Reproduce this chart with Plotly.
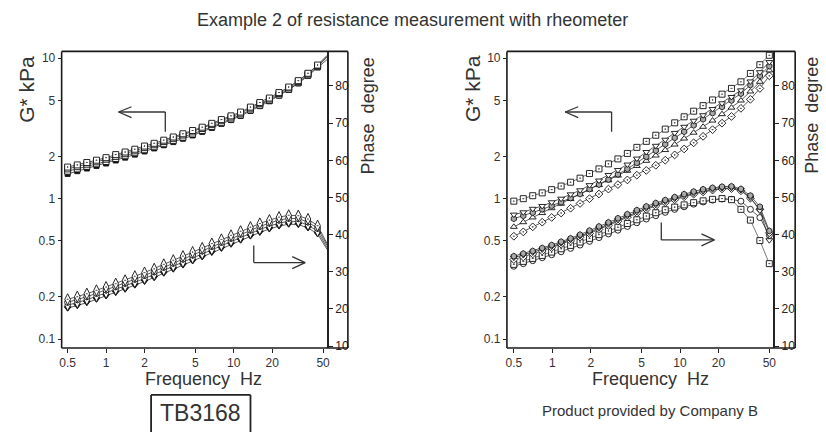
import plotly.graph_objects as go

# ---------------- data ----------------
freq_left = [0.5, 0.595, 0.707, 0.841, 1.0, 1.19, 1.41, 1.68, 2.0, 2.38, 2.83, 3.36, 4.0, 4.76,
             5.66, 6.73, 8.0, 9.51, 11.3, 13.5, 16.0, 19.0, 22.6, 26.9, 32.0, 38.1, 45.3, 53.8]
freq_right = [0.5, 0.593, 0.703, 0.834, 0.989, 1.173, 1.391, 1.65, 1.956, 2.32, 2.752, 3.264, 3.871, 4.591,
              5.445, 6.458, 7.659, 9.082, 10.77, 12.78, 15.15, 17.97, 21.31, 25.27, 29.97, 35.54, 42.16, 50.0]

# left panel (TB3168): G* kPa
gL_A = [1.68, 1.74, 1.81, 1.88, 1.96, 2.06, 2.15, 2.25, 2.37, 2.48, 2.61, 2.75, 2.90, 3.06, 3.23, 3.44, 3.66, 3.89, 4.14, 4.49, 4.84, 5.21, 5.70, 6.24, 6.93, 7.82, 8.95, 10.5]
gL_B = [1.63, 1.69, 1.76, 1.83, 1.91, 2.00, 2.09, 2.19, 2.31, 2.42, 2.55, 2.69, 2.84, 2.99, 3.16, 3.37, 3.59, 3.81, 4.06, 4.41, 4.75, 5.12, 5.61, 6.15, 6.84, 7.74, 8.86, 10.3]
gL_C = [1.57, 1.63, 1.70, 1.77, 1.84, 1.93, 2.02, 2.12, 2.23, 2.34, 2.46, 2.60, 2.74, 2.89, 3.06, 3.26, 3.48, 3.70, 3.95, 4.29, 4.63, 5.00, 5.48, 6.01, 6.70, 7.60, 8.72, 10.2]
gL_D = [1.50, 1.57, 1.64, 1.71, 1.78, 1.87, 1.96, 2.06, 2.17, 2.28, 2.40, 2.53, 2.67, 2.82, 2.99, 3.19, 3.41, 3.63, 3.88, 4.22, 4.56, 4.94, 5.42, 5.95, 6.62, 7.50, 8.60, 9.8]
# left panel: phase degree
pL_A = [22.6, 23.3, 24.1, 25.0, 25.9, 26.8, 27.7, 28.8, 29.8, 30.8, 32.0, 33.1, 34.2, 35.3, 36.4, 37.6, 38.7, 39.8, 40.9, 42.0, 43.0, 43.9, 44.7, 45.2, 45.1, 44.2, 42.4, 37.6]
pL_B = [21.8, 22.5, 23.3, 24.2, 25.1, 26.0, 26.9, 28.0, 29.0, 30.0, 31.2, 32.3, 33.4, 34.5, 35.6, 36.8, 37.9, 39.0, 40.1, 41.2, 42.2, 43.1, 43.9, 44.4, 44.3, 43.4, 41.7, 37.1]
pL_C = [21.0, 21.7, 22.5, 23.4, 24.3, 25.2, 26.1, 27.2, 28.2, 29.2, 30.4, 31.5, 32.6, 33.7, 34.8, 36.0, 37.1, 38.2, 39.3, 40.4, 41.4, 42.3, 43.1, 43.6, 43.5, 42.6, 40.9, 36.5]
pL_D = [20.2, 20.9, 21.7, 22.6, 23.5, 24.4, 25.3, 26.4, 27.4, 28.4, 29.6, 30.7, 31.8, 32.9, 34.0, 35.2, 36.3, 37.4, 38.5, 39.6, 40.6, 41.5, 42.3, 42.8, 42.7, 41.8, 40.2, 36.0]

# right panel (Company B): G* kPa
gR_1 = [0.96, 1.00, 1.05, 1.10, 1.16, 1.23, 1.31, 1.40, 1.51, 1.63, 1.77, 1.92, 2.10, 2.32, 2.56, 2.83, 3.13, 3.47, 3.83, 4.2, 4.6, 5.05, 5.55, 6.1, 6.8, 7.8, 9.0, 10.5]
gR_2 = [0.77, 0.80, 0.847, 0.887, 0.943, 1.0, 1.074, 1.148, 1.248, 1.347, 1.475, 1.6, 1.75, 1.93, 2.15, 2.38, 2.63, 2.94, 3.25, 3.59, 3.93, 4.35, 4.78, 5.3, 5.91, 6.84, 7.96, 9.4]
gR_3 = [0.72, 0.755, 0.795, 0.84, 0.89, 0.945, 1.01, 1.08, 1.17, 1.26, 1.37, 1.49, 1.63, 1.8, 1.99, 2.2, 2.44, 2.71, 3.0, 3.33, 3.68, 4.07, 4.5, 5.0, 5.6, 6.45, 7.5, 8.8]
gR_4 = [0.63, 0.68, 0.735, 0.79, 0.855, 0.92, 0.995, 1.075, 1.16, 1.25, 1.35, 1.46, 1.58, 1.71, 1.86, 2.03, 2.22, 2.43, 2.68, 2.95, 3.25, 3.6, 4.0, 4.45, 5.0, 5.8, 6.8, 8.2]
gR_5 = [0.54, 0.58, 0.63, 0.68, 0.735, 0.79, 0.855, 0.925, 1.0, 1.08, 1.17, 1.26, 1.36, 1.47, 1.59, 1.73, 1.88, 2.05, 2.26, 2.5, 2.78, 3.1, 3.45, 3.85, 4.4, 5.1, 6.1, 7.5]
# right panel: phase degree
pR_1 = [32.0, 32.8, 33.6, 34.4, 35.3, 36.2, 37.1, 38.0, 39.0, 40.0, 41.0, 42.0, 43.0, 44.0, 45.0, 45.9, 46.7, 47.4, 48.0, 48.6, 49.1, 49.5, 49.7, 49.4, 46.8, 43.9, 38.4, 32.2]
pR_2 = [33.8, 34.5, 35.2, 36.0, 36.8, 37.7, 38.6, 39.6, 40.6, 41.7, 42.8, 43.9, 45.0, 46.1, 47.1, 48.0, 48.9, 49.7, 50.4, 51.1, 51.7, 52.2, 52.5, 52.6, 52.0, 50.0, 46.5, 38.5]
pR_3 = [34.2, 34.9, 35.6, 36.4, 37.2, 38.1, 39.0, 40.0, 41.1, 42.2, 43.3, 44.4, 45.5, 46.6, 47.6, 48.5, 49.3, 50.1, 50.9, 51.6, 52.2, 52.6, 52.9, 53.0, 52.3, 50.5, 47.5, 41.0]
pR_4 = [31.5, 32.2, 33.0, 33.8, 34.6, 35.4, 36.3, 37.2, 38.2, 39.2, 40.2, 41.2, 42.2, 43.2, 44.2, 45.1, 46.0, 46.8, 47.5, 48.2, 48.8, 49.3, 49.6, 49.5, 49.0, 46.8, 44.6, 39.8]
pR_5 = [33.3, 34.0, 34.8, 35.6, 36.5, 37.4, 38.3, 39.3, 40.3, 41.4, 42.5, 43.6, 44.7, 45.8, 46.8, 47.7, 48.6, 49.4, 50.2, 50.9, 51.5, 52.0, 52.3, 52.4, 51.8, 49.8, 46.8, 40.5]

x_tickvals = [0.5, 1, 2, 5, 10, 20, 50]
x_ticktext = ["0.5", "1", "2", "5", "10", "20", "50"]
g_tickvals = [0.1, 0.2, 0.5, 1, 2, 5, 10]
g_ticktext = ["0.1", "0.2", "0.5", "1", "2", "5", "10"]
p_tickvals = [10, 20, 30, 40, 50, 60, 70, 80]

# ---------------- layout helpers ----------------
W, H = 826, 432
FONT = "Liberation Sans, Arial, sans-serif"
TXT = "#333333"
AX = "#222222"


def fx(x):
    return x / W


def fy(y):
    return 1 - y / H


fig = go.Figure()


def add_series(x, y, xa, ya, symbol, fill="white", size=6, lc="#333"):
    fig.add_trace(go.Scatter(
        x=x, y=y, xaxis=xa, yaxis=ya, mode="lines+markers",
        line=dict(color=lc, width=0.8),
        marker=dict(symbol=symbol, size=size, color=fill, line=dict(color="#111", width=0.9)),
        cliponaxis=False, showlegend=False, hoverinfo="skip"))


# left panel
add_series(freq_left, gL_D, "x", "y", "square", fill="#111", size=5)
add_series(freq_left, gL_C, "x", "y", "square-dot", size=6)
add_series(freq_left, gL_B, "x", "y", "square-dot", size=6, fill="#eee")
add_series(freq_left, gL_A, "x", "y", "square-dot", size=6)
add_series(freq_left, pL_D, "x", "y2", "triangle-down", fill="#111", size=6)
add_series(freq_left, pL_C, "x", "y2", "diamond-tall-dot", size=8)
add_series(freq_left, pL_B, "x", "y2", "circle-dot", size=6)
add_series(freq_left, pL_A, "x", "y2", "diamond-tall-dot", size=8)

# right panel
add_series(freq_right, gR_5, "x2", "y3", "diamond-dot", size=6)
add_series(freq_right, gR_4, "x2", "y3", "triangle-up", size=6)
add_series(freq_right, gR_3, "x2", "y3", "hexagon", fill="#aaa", size=6)
add_series(freq_right, gR_2, "x2", "y3", "triangle-down", size=6)
add_series(freq_right, gR_1, "x2", "y3", "square-dot", size=6, lc="#555")
add_series(freq_right, pR_4, "x2", "y4", "circle", size=6)
add_series(freq_right, pR_1, "x2", "y4", "square-dot", size=6, lc="#555")
add_series(freq_right, pR_5, "x2", "y4", "diamond-dot", size=6)
add_series(freq_right, pR_2, "x2", "y4", "triangle-down", size=6)
add_series(freq_right, pR_3, "x2", "y4", "hexagon", fill="#aaa", size=6)

ydom = [fy(352), fy(52)]
tickfont = dict(family=FONT, size=12, color=TXT)
ptickfont = dict(family=FONT, size=12, color="#222")

common_x = dict(type="log", tickvals=x_tickvals, ticktext=x_ticktext, ticks="outside",
                ticklen=4, tickcolor=AX, tickwidth=1, showgrid=False, zeroline=False,
                showline=False, tickfont=tickfont)
common_g = dict(type="log", range=[-1.063, 1.049], domain=ydom, tickvals=g_tickvals,
                ticktext=g_ticktext, ticks="outside", ticklen=3, tickcolor=AX,
                showgrid=False, zeroline=False, showline=False, tickfont=tickfont)
common_p = dict(range=[9.52, 89.3], side="right", tickvals=p_tickvals, ticks="outside",
                ticklen=4, tickcolor=AX, tickwidth=1.2, showgrid=False, zeroline=False,
                showline=True, linecolor=AX, linewidth=1.6, tickfont=ptickfont,
                ticklabelstandoff=0)

fig.update_layout(
    width=W, height=H, margin=dict(l=0, r=0, t=0, b=0),
    paper_bgcolor="white", plot_bgcolor="rgba(0,0,0,0)",
    xaxis=dict(domain=[fx(60), fx(327)], range=[-0.348, 1.730], anchor="y", **common_x),
    yaxis=dict(anchor="x", **common_g),
    yaxis2=dict(overlaying="y", anchor="x", **common_p),
    xaxis2=dict(domain=[fx(508), fx(776)], range=[-0.355, 1.730], anchor="y3", **common_x),
    yaxis3=dict(anchor="x2", **common_g),
    yaxis4=dict(overlaying="y3", anchor="x2", **common_p),
)

shapes = []


def seg(x0, y0, x1, y1, w=1.3, c="#333"):
    shapes.append(dict(type="line", xref="paper", yref="paper", x0=fx(x0), y0=fy(y0),
                       x1=fx(x1), y1=fy(y1), line=dict(color=c, width=w)))


def frame(x0, y0, x1, y1, w=1.6):
    seg(x0, y0, x1, y0, w, "#1a1a1a")
    seg(x1, y0, x1, y1, w, "#1a1a1a")
    seg(x1, y1, x0, y1, w, "#1a1a1a")
    seg(x0, y1, x0, y0, w, "#1a1a1a")


frame(60, 52, 348, 352)
frame(508, 52, 798, 352)

# left-pointing arrows (G* axis)
for vx, hx in [(164.3, 117.3), (613.3, 566.7)]:
    seg(vx, 133.3, vx, 113.3)
    seg(vx, 113.3, hx, 113.3)
    seg(hx, 113.3, hx + 13, 108)
    seg(hx, 113.3, hx + 13, 119)
# right-pointing arrows (phase axis)
for vx, y0, y1, hx in [(253.3, 248.3, 265.7, 305), (663.3, 225, 242.7, 716.7)]:
    seg(vx, y0, vx, y1)
    seg(vx, y1, hx, y1)
    seg(hx, y1, hx - 13, y1 - 6)
    seg(hx, y1, hx - 13, y1 + 6)

# TB3168 box
seg(150, 399.5, 250, 399.5, 1.8, AX)
seg(150, 399.5, 150, 440, 1.8, AX)
seg(250, 399.5, 250, 440, 1.8, AX)
fig.update_layout(shapes=shapes)

ann = []


def text(x, y, s, size, angle=0):
    ann.append(dict(xref="paper", yref="paper", x=fx(x), y=fy(y), text=s, showarrow=False,
                    xanchor="center", yanchor="middle", textangle=angle,
                    font=dict(family=FONT, size=size, color=TXT)))


text(413, 20, "Example 2 of resistance measurement with rheometer", 18)
text(25, 90, "G* kPa", 21, -90)
text(474, 90, "G* kPa", 21, -90)
text(368, 117, "Phase  degree", 18, -90)
text(815, 117, "Phase  degree", 18, -90)
text(203, 383, "Frequency  Hz", 18)
text(652, 383, "Frequency  Hz", 18)
text(200, 418, "TB3168", 23)
text(652, 415, "Product provided by Company B", 15)
fig.update_layout(annotations=ann)

fig.write_html("out.html", config={"displayModeBar": False},
               post_script="document.body.style.margin='0';document.body.style.overflow='hidden';")
